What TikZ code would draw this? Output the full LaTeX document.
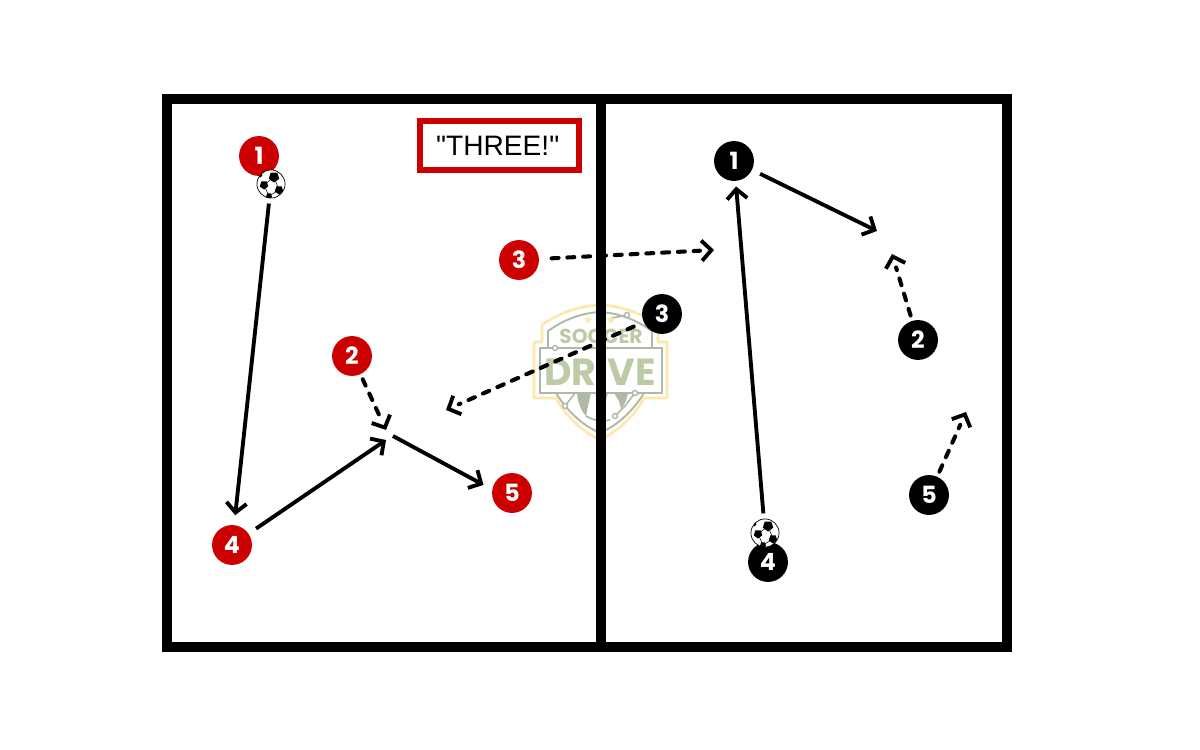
\documentclass[tikz,border=0pt]{standalone}
\usepackage{fontspec}
\setmainfont{Liberation Sans}
\newfontfamily\digitfont{Poppins}
\newfontfamily\callfont{Liberation Sans}
\usetikzlibrary{arrows.meta,shapes.geometric}
\definecolor{teamred}{HTML}{CC0000}
\definecolor{logoyellow}{HTML}{FBE9AE}
\definecolor{logosage}{HTML}{BCCBA6}
\definecolor{logogrey}{HTML}{AEB9A6}
\newcommand{\ballpatch}[3]{%
	\fill[black] (#1,#2) +(90:#3) -- +(162:#3) -- +(234:#3) -- +(306:#3) -- +(18:#3) -- cycle;
}
\newcommand{\ballmarks}{%
	\ballpatch{3}{-7}{5.5}
	\ballpatch{-7}{1}{4.5}
	\ballpatch{8}{6}{4.5}
	\ballpatch{-2}{12}{3.2}
	\ballpatch{-11}{-9}{2.5}
	\draw[black,line width=.3pt] (3,-7) -- (-7,1) -- (-2,12) -- (8,6) -- cycle;
}
\tikzset{
	player/.style={circle,inner sep=0pt,minimum size=22.7pt,text=white,font=\digitfont\bfseries\fontsize{13.5}{14}\selectfont},
	redplayer/.style={player,fill=teamred},
	blackplayer/.style={player,fill=black},
	ball/.style={circle,draw=black,line width=.4pt,fill=white,inner sep=0pt,minimum size=16pt,
		path picture={\begin{scope}[shift={(path picture bounding box.center)}]\ballmarks\end{scope}}},
	pass/.style={line width=2.2pt,-{Straight Barb[length=5.5pt,width=11.5pt,line width=2.2pt]}},
	run/.style={line width=2.3pt,line cap=round,dash pattern=on 4pt off 5pt,shorten >=8pt,
		postaction={draw,line cap=butt,solid,shorten >=0pt,shorten <=0pt,dash pattern=on 0pt off 2000pt,-{Straight Barb[length=5.5pt,width=11.5pt,line width=2.2pt]}}},
	field/.style={line width=5.2pt,line join=miter},
}
\begin{document}
\begin{tikzpicture}[x=0.02cm,y=-0.02cm]
	\useasboundingbox (0,0) rectangle (1200,750);
	\fill[white] (0,0) rectangle (1200,750);

	\draw[logoyellow,line width=1.6pt,line join=round] (600,305) .. controls (580,306) and (560,312) .. (542,325) -- (542,342) -- (534,342) -- (534,398) -- (556,398) .. controls (565,415) and (580,430) .. (600,440) .. controls (620,430) and (635,415) .. (644,398) -- (667,398) -- (667,342) -- (658,342) -- (658,325) .. controls (640,312) and (620,306) .. (600,305) -- cycle;
	\draw[logogrey,line width=1.1pt] (548,348) -- (548,331) .. controls (565,319) and (582,313) .. (600,312) .. controls (618,313) and (635,319) .. (652,331) -- (652,348);
	\draw[logogrey,line width=1.1pt] (556,393) .. controls (567,411) and (582,425) .. (600,433) .. controls (618,425) and (633,411) .. (644,393);
	\fill[logogrey] (577,393) .. controls (578,404) and (582,412) .. (586,416) -- (588,406) -- (591,393) -- cycle;
	\fill[logogrey] (595,393) -- (597,400) -- (601,402) -- (606,400) -- (608,393) -- cycle;
	\fill[logogrey] (614,393) -- (619,401) -- (621,409) .. controls (625,404) and (627,399) .. (628,393) -- cycle;
	\draw[logogrey,line width=1pt] (586,416) .. controls (592,420) and (600,422) .. (610,420);
	\draw[logogrey,line width=1.1pt,fill=white] (540,348) rectangle (662,393);
	\draw[logogrey,line width=.9pt] (555,348) -- (610,348) (627,315) -- (612,318) (635,393) -- (625,406) -- (615,416) (565,406) -- (575,393);
	\foreach \x/\y in {627/315,555/348,635/393,565/406,615/416}
		\draw[logogrey,line width=.8pt,fill=white] (\x,\y) circle (2.5);
	\foreach \x in {588,611}
		\node[star,star points=5,star point ratio=2.2,fill=logoyellow,inner sep=0pt,minimum size=5pt] (star\x) at (\x,320) {};
	\node[text=logosage,font=\digitfont\bfseries\fontsize{11.5}{12}\selectfont] (logoSoccer) at (601,336) {SOCCER};
	\node[text=logosage,font=\digitfont\bfseries\fontsize{21.5}{22}\selectfont] (logoDrive) at (600,372) {DRIVE};

	\draw[field] (167,99) rectangle (1007,647);
	\draw[field] (601,99) -- (601,647);

	\node[draw=teamred,line width=3.4pt,fill=white,minimum width=90.5pt,minimum height=28.3pt,inner sep=0pt,font=\callfont\fontsize{16}{18}\selectfont] (call) at (499.5,145.5) {\hspace{-2pt}"THREE!"};

	\node[redplayer] (R1) at (259,156) {1};
	\node[redplayer] (R2) at (352,356) {2};
	\node[redplayer] (R3) at (519,260) {3};
	\node[redplayer] (R4) at (232,545) {4};
	\node[redplayer] (R5) at (512,493) {5};
	\node[blackplayer] (B1) at (734,161) {1};
	\node[blackplayer] (B2) at (918,340) {2};
	\node[blackplayer] (B3) at (662,314) {3};
	\node[blackplayer] (B4) at (768,562) {4};
	\node[blackplayer] (B5) at (929,495) {5};
	\node[ball] (ballR) at (271,184) {};
	\node[ball] (ballB) at (765,533) {};

	\coordinate (meetR) at (386,440);
	\coordinate (leaveR) at (393,436);
	\coordinate (cutR) at (386,430);
	\coordinate (runR) at (714,250);
	\coordinate (runB) at (446,410);
	\coordinate (passB) at (877,231);
	\coordinate (cutB) at (892,254);
	\coordinate (wideB) at (966,412);

	\draw[pass,shorten <=3pt,shorten >=5.5pt] (ballR) -- (R4);
	\draw[pass,shorten <=5pt] (R4) -- (meetR);
	\draw[pass,shorten >=5.5pt] (leaveR) -- (R5.170);
	\draw[run,shorten <=3pt] (R2) -- (cutR);
	\draw[run,shorten <=7pt] (R3) -- (runR);
	\draw[run,shorten <=6pt] (B3) -- (runB);
	\draw[pass,shorten <=3pt,shorten >=3pt] (ballB) -- (B1);
	\draw[pass,shorten <=5pt] (B1) -- (passB);
	\draw[run,shorten <=3pt] (B2) -- (cutB);
	\draw[run,shorten <=3pt] (B5) -- (wideB);
\end{tikzpicture}
\end{document}
